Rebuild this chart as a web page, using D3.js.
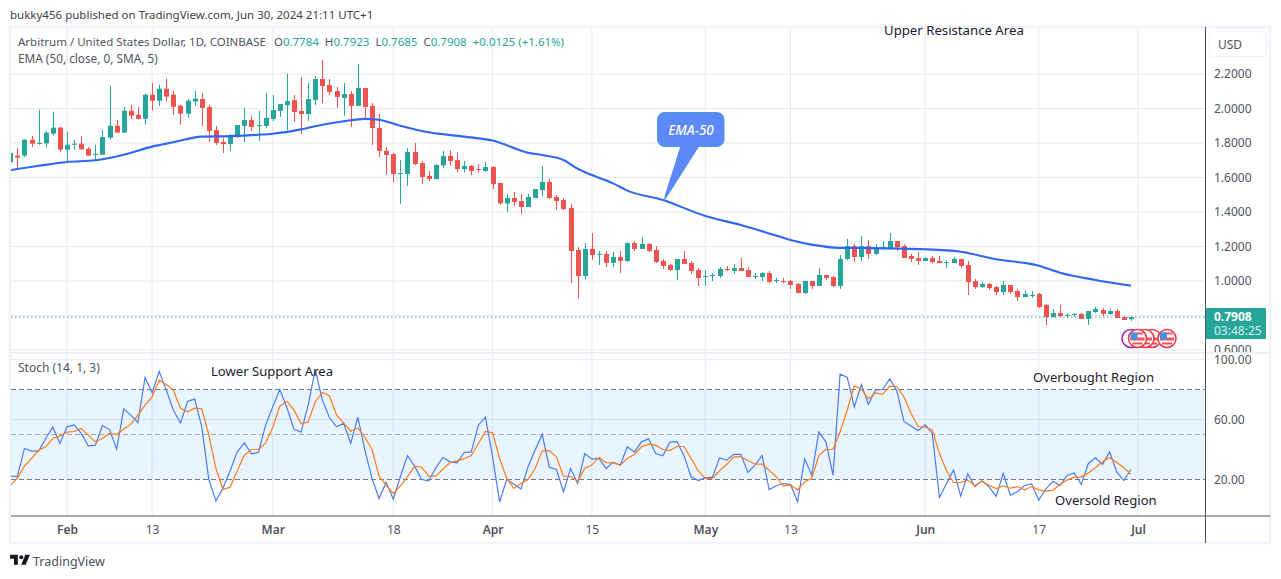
<!DOCTYPE html>
<html>
<head>
<meta charset="utf-8">
<script src="https://cdn.jsdelivr.net/npm/d3@7/dist/d3.min.js"></script>
<style>
  html, body { margin: 0; padding: 0; background: #fff; }
  svg { display: block; }
  text { font-family: "Noto Sans", sans-serif; }
</style>
</head>
<body>
<svg id="chart" width="1281" height="579"></svg>
<script>
const WIDTH = 1281;
const HEIGHT = 579;
const GRID_COLOR = '#e4ecf3';
const UP_COLOR = '#26a69a';
const DOWN_COLOR = '#ef5350';
const TEXT_COLOR = '#50535e';
const NOTE_COLOR = '#1c2030';

const firstDay = new Date(Date.UTC(2024, 0, 24));

// daily candles, Jan 24 to Jun 30, ten per row
const candleOpen = [
  1.688, 1.727, 1.727, 1.819, 1.796, 1.798, 1.854, 1.889, 1.761, 1.790,
  1.796, 1.767, 1.732, 1.732, 1.831, 1.900, 1.860, 1.987, 1.964, 1.940,
  2.080, 2.045, 2.115, 2.080, 2.016, 1.970, 2.040, 2.055, 2.009, 1.875,
  1.806, 1.794, 1.835, 1.899, 1.933, 1.899, 1.899, 1.939, 1.986, 2.020,
  2.049, 1.986, 1.968, 2.049, 2.171, 2.136, 2.101, 2.061, 2.084, 2.015,
  2.119, 2.015, 1.887, 1.754, 1.736, 1.620, 1.620, 1.748, 1.684, 1.609,
  1.591, 1.670, 1.725, 1.701, 1.649, 1.667, 1.649, 1.638, 1.661, 1.568,
  1.450, 1.481, 1.464, 1.429, 1.481, 1.527, 1.574, 1.487, 1.470, 1.423,
  1.180, 1.029, 1.186, 1.151, 1.157, 1.105, 1.140, 1.116, 1.220, 1.186,
  1.215, 1.180, 1.116, 1.093, 1.064, 1.128, 1.104, 1.064, 1.023, 1.029,
  1.029, 1.070, 1.058, 1.075, 1.064, 1.023, 1.023, 1.046, 1.000, 1.000,
  1.000, 0.983, 0.930, 1.000, 0.971, 1.035, 1.023, 0.971, 1.128, 1.203,
  1.139, 1.203, 1.157, 1.186, 1.191, 1.232, 1.203, 1.145, 1.133, 1.116,
  1.133, 1.116, 1.104, 1.104, 1.128, 1.093, 0.999, 0.965, 0.983, 0.965,
  0.936, 0.977, 0.942, 0.907, 0.913, 0.925, 0.861, 0.791, 0.814, 0.797,
  0.803, 0.809, 0.780, 0.820, 0.832, 0.809, 0.826, 0.791, 0.7784
];
const candleHigh = [
  1.750, 1.771, 1.823, 1.842, 1.993, 1.868, 1.982, 1.893, 1.866, 1.819,
  1.842, 1.777, 1.790, 1.877, 2.132, 1.935, 2.010, 2.022, 2.010, 2.086,
  2.150, 2.138, 2.173, 2.103, 2.022, 2.057, 2.103, 2.090, 2.020, 1.899,
  1.829, 1.852, 1.904, 2.003, 1.957, 1.986, 2.090, 2.078, 2.026, 2.200,
  2.078, 2.183, 2.148, 2.188, 2.281, 2.171, 2.125, 2.148, 2.101, 2.258,
  2.119, 2.032, 1.968, 1.777, 1.742, 1.701, 1.771, 1.800, 1.696, 1.638,
  1.678, 1.754, 1.759, 1.746, 1.696, 1.672, 1.678, 1.690, 1.667, 1.568,
  1.504, 1.516, 1.504, 1.504, 1.533, 1.667, 1.591, 1.499, 1.481, 1.446,
  1.197, 1.220, 1.278, 1.174, 1.174, 1.168, 1.174, 1.226, 1.232, 1.255,
  1.220, 1.203, 1.128, 1.099, 1.128, 1.174, 1.116, 1.075, 1.064, 1.046,
  1.081, 1.087, 1.099, 1.133, 1.081, 1.046, 1.052, 1.058, 1.017, 1.017,
  1.006, 0.988, 1.000, 1.000, 1.075, 1.035, 1.029, 1.151, 1.244, 1.215,
  1.260, 1.238, 1.214, 1.232, 1.278, 1.232, 1.214, 1.157, 1.168, 1.139,
  1.145, 1.145, 1.122, 1.139, 1.128, 1.116, 1.011, 0.994, 0.988, 0.971,
  1.000, 0.977, 0.954, 0.942, 0.942, 0.931, 0.867, 0.838, 0.861, 0.814,
  0.814, 0.814, 0.826, 0.849, 0.844, 0.838, 0.838, 0.797, 0.7923
];
const candleLow = [
  1.653, 1.645, 1.717, 1.777, 1.790, 1.775, 1.842, 1.746, 1.684, 1.761,
  1.761, 1.727, 1.703, 1.730, 1.819, 1.860, 1.860, 1.940, 1.935, 1.906,
  1.987, 2.016, 2.040, 1.964, 1.906, 1.947, 2.016, 1.899, 1.806, 1.788,
  1.742, 1.754, 1.829, 1.806, 1.870, 1.812, 1.887, 1.927, 1.951, 1.875,
  1.922, 1.852, 1.928, 2.020, 2.030, 2.078, 2.003, 1.957, 1.893, 2.015,
  1.933, 1.788, 1.719, 1.615, 1.574, 1.446, 1.551, 1.672, 1.562, 1.580,
  1.591, 1.653, 1.670, 1.630, 1.630, 1.613, 1.630, 1.632, 1.533, 1.439,
  1.400, 1.435, 1.388, 1.429, 1.481, 1.493, 1.475, 1.412, 1.412, 0.988,
  0.900, 1.009, 1.122, 1.093, 1.081, 1.081, 1.046, 1.110, 1.174, 1.186,
  1.168, 1.104, 1.070, 1.058, 1.006, 1.099, 1.041, 0.971, 0.971, 1.000,
  1.017, 1.058, 1.040, 1.058, 1.023, 1.012, 1.000, 0.988, 0.988, 0.988,
  0.954, 0.930, 0.925, 0.954, 0.971, 1.006, 0.965, 0.954, 1.122, 1.110,
  1.116, 1.128, 1.151, 1.180, 1.191, 1.174, 1.133, 1.110, 1.093, 1.116,
  1.104, 1.104, 1.076, 1.104, 1.076, 0.919, 0.954, 0.959, 0.948, 0.919,
  0.919, 0.925, 0.884, 0.907, 0.901, 0.844, 0.745, 0.791, 0.791, 0.785,
  0.791, 0.780, 0.745, 0.815, 0.797, 0.803, 0.786, 0.774, 0.7685
];
const candleClose = [
  1.742, 1.715, 1.819, 1.796, 1.800, 1.860, 1.889, 1.761, 1.790, 1.796,
  1.763, 1.727, 1.736, 1.835, 1.900, 1.860, 1.987, 1.958, 1.940, 2.080,
  2.045, 2.115, 2.069, 2.010, 1.970, 2.045, 2.057, 2.003, 1.870, 1.800,
  1.794, 1.846, 1.904, 1.933, 1.893, 1.904, 1.945, 1.991, 2.026, 2.043,
  1.980, 1.968, 2.055, 2.171, 2.130, 2.096, 2.067, 2.084, 2.015, 2.119,
  2.009, 1.887, 1.754, 1.730, 1.620, 1.626, 1.748, 1.678, 1.603, 1.591,
  1.672, 1.725, 1.696, 1.649, 1.667, 1.638, 1.644, 1.661, 1.562, 1.450,
  1.481, 1.458, 1.429, 1.487, 1.533, 1.574, 1.481, 1.464, 1.417, 1.174,
  1.029, 1.186, 1.151, 1.157, 1.105, 1.140, 1.116, 1.220, 1.186, 1.215,
  1.174, 1.110, 1.087, 1.064, 1.128, 1.099, 1.058, 1.017, 1.029, 1.035,
  1.070, 1.064, 1.075, 1.058, 1.023, 1.029, 1.046, 0.994, 1.006, 0.994,
  0.977, 0.930, 1.000, 0.971, 1.035, 1.017, 0.971, 1.128, 1.203, 1.139,
  1.203, 1.157, 1.191, 1.197, 1.232, 1.197, 1.133, 1.128, 1.116, 1.133,
  1.110, 1.104, 1.110, 1.128, 1.087, 0.994, 0.965, 0.983, 0.959, 0.936,
  0.977, 0.936, 0.907, 0.925, 0.919, 0.849, 0.791, 0.814, 0.797, 0.803,
  0.809, 0.780, 0.826, 0.838, 0.809, 0.826, 0.786, 0.774, 0.7908
];

// EMA-50, read at these day offsets from firstDay
const emaDays = [
  0, 4, 8, 12, 16, 20, 23, 27, 31, 35, 37, 41, 44, 47, 50, 52, 55, 59, 64, 68,
  73, 75, 78, 80, 82, 85, 87, 92, 98, 103, 107, 110, 113, 117, 120, 129, 134, 139, 145, 148, 153, 158
];
const emaValues = [
  1.643, 1.668, 1.690, 1.700, 1.732, 1.779, 1.804, 1.837, 1.840, 1.848,
  1.854, 1.879, 1.906, 1.926, 1.940, 1.935, 1.900, 1.862, 1.837, 1.814,
  1.744, 1.730, 1.701, 1.651, 1.614, 1.566, 1.524, 1.470, 1.377, 1.325,
  1.276, 1.238, 1.211, 1.192, 1.191, 1.184, 1.170, 1.126, 1.089, 1.048,
  1.006, 0.973
];

const stochK = [
  22.4, 21.8, 40.7, 38.9, 38.9, 47.3, 54.9, 44.0, 55.1, 56.4,
  50.7, 42.4, 42.9, 56.0, 53.3, 40.2, 67.1, 62.9, 58.0, 88.0,
  77.8, 92.2, 79.6, 66.2, 57.6, 72.0, 73.6, 55.1, 20.0, 5.6,
  14.4, 25.8, 38.4, 44.4, 37.1, 38.2, 56.2, 68.4, 80.0, 68.0,
  53.6, 51.6, 69.6, 93.3, 72.9, 61.3, 55.1, 57.6, 44.0, 61.6,
  39.6, 20.7, 7.3, 18.2, 6.9, 21.8, 36.0, 28.9, 20.0, 19.1,
  27.8, 34.7, 31.8, 31.1, 38.0, 38.4, 56.2, 61.6, 35.1, 5.1,
  20.0, 16.9, 13.6, 28.4, 39.6, 50.0, 28.2, 26.7, 11.8, 27.3,
  17.3, 37.3, 33.6, 34.0, 27.3, 31.6, 29.6, 41.8, 38.2, 45.1,
  47.1, 37.3, 35.8, 44.9, 45.3, 35.6, 21.8, 19.3, 21.1, 21.6,
  34.4, 32.9, 36.7, 36.7, 24.7, 29.6, 36.0, 13.3, 15.8, 17.3,
  16.7, 5.1, 33.8, 22.9, 51.6, 45.1, 22.9, 90.2, 88.2, 68.4,
  83.3, 70.0, 79.8, 80.0, 87.1, 79.1, 58.7, 55.6, 52.7, 56.4,
  50.7, 8.0, 17.3, 26.4, 8.9, 23.8, 15.3, 19.1, 15.1, 8.7,
  24.0, 9.6, 11.8, 16.0, 17.1, 6.2, 13.6, 18.9, 16.0, 22.7,
  24.4, 16.7, 30.7, 34.4, 30.2, 38.4, 25.1, 19.3, 26.7
];
const stochD = [
  16.2, 20.7, 28.9, 34.0, 39.6, 41.8, 47.3, 49.1, 51.6, 52.0,
  54.0, 49.6, 45.1, 47.3, 50.7, 50.0, 53.6, 56.9, 62.9, 69.6,
  75.1, 86.2, 83.3, 79.6, 67.3, 65.1, 67.6, 67.1, 49.6, 27.3,
  13.3, 14.9, 25.8, 36.2, 40.0, 40.0, 44.2, 54.7, 68.9, 72.2,
  66.2, 57.3, 58.2, 71.8, 78.0, 75.8, 63.1, 57.8, 52.2, 54.4,
  48.0, 40.0, 22.2, 16.2, 10.7, 15.6, 21.8, 28.9, 28.2, 22.2,
  22.2, 26.9, 31.3, 32.4, 33.8, 36.0, 44.0, 52.0, 51.1, 34.0,
  20.7, 14.0, 17.3, 20.0, 27.3, 39.1, 39.3, 35.1, 22.2, 22.0,
  18.9, 27.6, 29.6, 34.7, 31.3, 31.1, 29.6, 34.2, 36.7, 41.8,
  43.6, 42.9, 40.0, 39.3, 42.0, 42.0, 34.0, 25.8, 20.7, 20.7,
  25.8, 30.0, 34.9, 35.3, 32.7, 30.2, 30.2, 26.2, 21.8, 15.6,
  16.4, 13.1, 18.4, 20.9, 36.0, 40.0, 40.0, 51.8, 66.2, 82.4,
  80.2, 73.8, 77.8, 76.7, 82.2, 82.0, 75.1, 64.0, 55.3, 54.9,
  53.1, 37.3, 25.8, 18.0, 18.0, 19.6, 15.8, 18.9, 16.2, 14.0,
  15.8, 14.2, 15.3, 12.9, 15.3, 13.1, 12.2, 12.7, 16.7, 19.6,
  21.6, 21.8, 24.4, 27.8, 31.8, 34.7, 31.3, 27.8, 23.6
];

const priceTicks = [2.2, 2.0, 1.8, 1.6, 1.4, 1.2, 1.0, 0.8, 0.6];
const priceLabelTicks = [2.2, 2.0, 1.8, 1.6, 1.4, 1.2, 1.0, 0.6];
const stochTicks = [100, 60, 20];
const stochLevels = [80, 50, 20];
const timeTicks = [
  [2024, 1, 1], [2024, 1, 13], [2024, 2, 1], [2024, 2, 18], [2024, 3, 1], [2024, 3, 15],
  [2024, 4, 1], [2024, 4, 13], [2024, 5, 1], [2024, 5, 17], [2024, 6, 1]
].map(d => new Date(Date.UTC(d[0], d[1], d[2])));
const timeLabels = ['Feb', '13', 'Mar', '18', 'Apr', '15', 'May', '13', 'Jun', '17', 'Jul'];
const lastPrice = 0.7908;

const dayOf = (i) => d3.utcDay.offset(firstDay, i);

const x = d3.scaleUtc()
  .domain([new Date(Date.UTC(2024, 1, 1)), new Date(Date.UTC(2024, 6, 1))])
  .range([67, 1138]);
const yPrice = d3.scaleLinear().domain([0.6, 2.2]).range([350, 74]);
const yStoch = d3.scaleLinear().domain([20, 100]).range([479.5, 359.5]);

const svg = d3.select('#chart').attr('viewBox', `0 0 ${WIDTH} ${HEIGHT}`);
const defs = svg.append('defs');
defs.append('clipPath').attr('id', 'pricePane').append('rect')
  .attr('x', 11).attr('y', 26).attr('width', 1194).attr('height', 326);
defs.append('clipPath').attr('id', 'priceScale').append('rect')
  .attr('x', 1206).attr('y', 28).attr('width', 64).attr('height', 324);
defs.append('clipPath').attr('id', 'stochPane').append('rect')
  .attr('x', 11).attr('y', 353).attr('width', 1194).attr('height', 163);

// outer frame and pane separators
svg.append('rect').attr('x', 10).attr('y', 27).attr('width', 1260).attr('height', 516)
  .attr('fill', '#fff').attr('stroke', '#f0f3fa').attr('stroke-width', 2.5);

const gridG = svg.append('g');
gridG.selectAll('line.v').data(timeTicks).enter().append('line')
  .attr('x1', d => x(d)).attr('x2', d => x(d))
  .attr('y1', 28).attr('y2', 516)
  .attr('stroke', GRID_COLOR).attr('stroke-width', 1);
gridG.selectAll('line.p').data(priceTicks).enter().append('line')
  .attr('x1', 11).attr('x2', 1205)
  .attr('y1', d => yPrice(d)).attr('y2', d => yPrice(d))
  .attr('stroke', GRID_COLOR).attr('stroke-width', 1);
gridG.selectAll('line.s').data([100, 60]).enter().append('line')
  .attr('x1', 11).attr('x2', 1205)
  .attr('y1', d => yStoch(d)).attr('y2', d => yStoch(d))
  .attr('stroke', GRID_COLOR).attr('stroke-width', 1);
svg.append('line').attr('x1', 11).attr('x2', 1270).attr('y1', 352.7).attr('y2', 352.7)
  .attr('stroke', '#e8ebf3').attr('stroke-width', 1.5);

// price pane
const priceG = svg.append('g').attr('clip-path', 'url(#pricePane)');
const candles = d3.range(candleOpen.length).map(i => ({
  date: dayOf(i), o: candleOpen[i], h: candleHigh[i], l: candleLow[i], c: candleClose[i]
}));
const candleColor = d => (d.c >= d.o ? UP_COLOR : DOWN_COLOR);

priceG.selectAll('line.wick').data(candles).enter().append('line')
  .attr('x1', d => Math.round(x(d.date)) + 0.5).attr('x2', d => Math.round(x(d.date)) + 0.5)
  .attr('y1', d => yPrice(d.h)).attr('y2', d => yPrice(d.l))
  .attr('stroke', candleColor).attr('stroke-width', 1);
priceG.selectAll('rect.body').data(candles).enter().append('rect')
  .attr('x', d => Math.round(x(d.date)) - 2)
  .attr('width', 5)
  .attr('y', d => yPrice(Math.max(d.o, d.c)))
  .attr('height', d => Math.max(1, Math.abs(yPrice(d.o) - yPrice(d.c))))
  .attr('fill', candleColor);

const emaLine = d3.line()
  .x(d => x(dayOf(d[0])))
  .y(d => yPrice(d[1]))
  .curve(d3.curveMonotoneX);
priceG.append('path')
  .attr('d', emaLine(emaDays.map((d, i) => [d, emaValues[i]])))
  .attr('fill', 'none').attr('stroke', '#2f66f5').attr('stroke-width', 2.1);

priceG.append('line')
  .attr('x1', 11).attr('x2', 1205)
  .attr('y1', yPrice(lastPrice)).attr('y2', yPrice(lastPrice))
  .attr('stroke', UP_COLOR).attr('stroke-width', 1).attr('stroke-dasharray', '1.5,2.5');

// EMA-50 callout
priceG.append('path')
  .attr('d', `M664 ${yPrice(1.464)} L681 146 L699 146 Z`)
  .attr('fill', '#5b8af8').attr('stroke', '#4f90e0').attr('stroke-width', 0.8);
priceG.append('rect')
  .attr('x', 657.5).attr('y', 112.5).attr('width', 66.5).attr('height', 34).attr('rx', 7)
  .attr('fill', '#5b8af8').attr('stroke', '#4f98d8').attr('stroke-width', 1);
priceG.append('path')
  .attr('d', `M681 145 L699 145 L664 ${yPrice(1.464) - 3} Z`).attr('fill', '#5b8af8');
priceG.append('text').attr('x', 691).attr('y', 134.5).attr('text-anchor', 'middle')
  .attr('fill', '#fff').attr('font-size', 13.5).attr('font-style', 'italic').attr('font-weight', 500)
  .text('EMA-50');

// calendar event badges, drawn back to front
const badgeG = priceG.append('g');
[[1131, '#9c27b0', false], [1152, '#f23645', false], [1145, '#f23645', false], [1167, '#f23645', true], [1137.5, '#f23645', true]]
  .forEach(([bx, color, flag]) => {
    const b = badgeG.append('g').attr('transform', `translate(${bx},338.5)`);
    b.append('circle').attr('r', 9).attr('fill', '#fff').attr('stroke', color).attr('stroke-width', 1.5);
    if (color === '#f23645') {
      b.append('rect').attr('x', -7).attr('y', -1).attr('width', 14).attr('height', 3).attr('fill', '#f7525f');
      b.append('rect').attr('x', -5).attr('y', 4).attr('width', 10).attr('height', 2).attr('fill', '#f7525f');
    }
    if (flag) {
      b.append('rect').attr('x', -5.5).attr('y', -6).attr('width', 11).attr('height', 2).attr('fill', '#f7525f');
      b.append('rect').attr('x', -7).attr('y', -6).attr('width', 7).attr('height', 7).attr('fill', '#4a90e2');
    }
  });

// stochastic pane
const stochG = svg.append('g').attr('clip-path', 'url(#stochPane)');
stochG.append('rect')
  .attr('x', 11).attr('width', 1194)
  .attr('y', yStoch(80)).attr('height', yStoch(20) - yStoch(80))
  .attr('fill', 'rgba(33,150,243,0.1)');
stochG.selectAll('line.level').data(stochLevels).enter().append('line')
  .attr('x1', 11).attr('x2', 1205)
  .attr('y1', d => yStoch(d)).attr('y2', d => yStoch(d))
  .attr('stroke', d => (d === 50 ? '#a4a7b0' : '#787b86'))
  .attr('stroke-width', 1).attr('stroke-dasharray', '5,3');
const stochLine = d3.line().x((d, i) => x(dayOf(i))).y(d => yStoch(d));
stochG.append('path').attr('d', stochLine(stochK))
  .attr('fill', 'none').attr('stroke', '#4a7cf7').attr('stroke-width', 1.2);
stochG.append('path').attr('d', stochLine(stochD))
  .attr('fill', 'none').attr('stroke', '#ff7a1a').attr('stroke-width', 1.2);

// axes
const styleAxis = (g) => {
  g.select('.domain').remove();
  g.selectAll('.tick line').remove();
  g.selectAll('.tick text').attr('fill', TEXT_COLOR).attr('font-size', 12)
    .style('font-family', '"Noto Sans", sans-serif');
};
svg.append('g')
  .attr('clip-path', 'url(#priceScale)')
  .append('g')
  .attr('transform', 'translate(1206,0)')
  .call(d3.axisRight(yPrice).tickValues(priceLabelTicks).tickFormat(d3.format('.4f')).tickSize(0).tickPadding(8))
  .call(styleAxis);
svg.append('g')
  .attr('transform', 'translate(1206,0)')
  .call(d3.axisRight(yStoch).tickValues(stochTicks).tickFormat(d3.format('.2f')).tickSize(0).tickPadding(8))
  .call(styleAxis);
svg.append('g')
  .attr('transform', 'translate(0,516)')
  .call(d3.axisBottom(x).tickValues(timeTicks).tickFormat((d, i) => timeLabels[i]).tickSize(0).tickPadding(9))
  .call(styleAxis)
  .selectAll('.tick text')
  .attr('font-weight', (d, i) => (i % 2 === 0 ? 600 : 400));

svg.append('line').attr('x1', 1205.5).attr('x2', 1205.5).attr('y1', 27).attr('y2', 543)
  .attr('stroke', '#50535e').attr('stroke-width', 1);
svg.append('line').attr('x1', 11).attr('x2', 1270).attr('y1', 516).attr('y2', 516)
  .attr('stroke', '#50535e').attr('stroke-width', 1);

// last price tag and currency button
svg.append('rect').attr('x', 1206).attr('y', 308).attr('width', 60).attr('height', 31).attr('rx', 1)
  .attr('fill', UP_COLOR);
svg.append('text').attr('x', 1214).attr('y', 321).attr('fill', '#fff')
  .attr('font-size', 12).attr('font-weight', 700).text(d3.format('.4f')(lastPrice));
svg.append('text').attr('x', 1214).attr('y', 335).attr('fill', '#d4eeeb')
  .attr('font-size', 12).text('03:48:25');
svg.append('rect').attr('x', 1209.5).attr('y', 31.5).attr('width', 57).attr('height', 25).attr('rx', 4)
  .attr('fill', '#fff').attr('stroke', '#f0f3fa').attr('stroke-width', 1.2);
svg.append('text').attr('x', 1218).attr('y', 49).attr('fill', TEXT_COLOR).attr('font-size', 12).text('USD');

// header and legends
svg.append('text').attr('x', 10).attr('y', 19).attr('fill', '#3c3f4a').attr('font-size', 11.52)
  .text('bukky456 published on TradingView.com, Jun 30, 2024 21:11 UTC+1');

const legend = svg.append('text').attr('x', 18).attr('y', 46).attr('font-size', 11.5).attr('fill', TEXT_COLOR);
legend.append('tspan').text('Arbitrum / United States Dollar, 1D, COINBASE');
[['O', '0.7784'], ['H', '0.7923'], ['L', '0.7685'], ['C', '0.7908']].forEach(([key, val], i) => {
  legend.append('tspan').attr('dx', i === 0 ? 8 : 6).text(key);
  legend.append('tspan').attr('fill', UP_COLOR).text(val);
});
legend.append('tspan').attr('dx', 6).attr('fill', UP_COLOR).text('+0.0125 (+1.61%)');

svg.append('text').attr('x', 18).attr('y', 63).attr('font-size', 11.8).attr('fill', TEXT_COLOR)
  .text('EMA (50, close, 0, SMA, 5)');
svg.append('text').attr('x', 18).attr('y', 372).attr('font-size', 12).attr('fill', TEXT_COLOR)
  .text('Stoch (14, 1, 3)');

// drawn notes
const notes = [
  ['Upper Resistance Area', 884, 35],
  ['Lower Support Area', 211, 376],
  ['Overbought Region', 1033, 382],
  ['Oversold Region', 1055, 505]
];
priceG.append('text').attr('x', notes[0][1]).attr('y', notes[0][2])
  .attr('fill', NOTE_COLOR).attr('font-size', 13.2).text(notes[0][0]);
svg.selectAll('text.note').data(notes.slice(1)).enter().append('text')
  .attr('class', 'note')
  .attr('x', d => d[1]).attr('y', d => d[2])
  .attr('fill', NOTE_COLOR).attr('font-size', 13.1).text(d => d[0]);

// footer logo
svg.append('path')
  .attr('transform', 'translate(10,552.5) scale(0.56)')
  .attr('d', 'M14 22H7V11H0V4h14v18zM28 22h-8l7.5-18h8L28 22z')
  .attr('fill', '#131722');
svg.append('circle').attr('cx', 21.3).attr('cy', 557.2).attr('r', 2).attr('fill', '#131722');
svg.append('text').attr('x', 33).attr('y', 566).attr('fill', '#4a4e59').attr('font-size', 12.5).text('TradingView');
</script>
</body>
</html>
